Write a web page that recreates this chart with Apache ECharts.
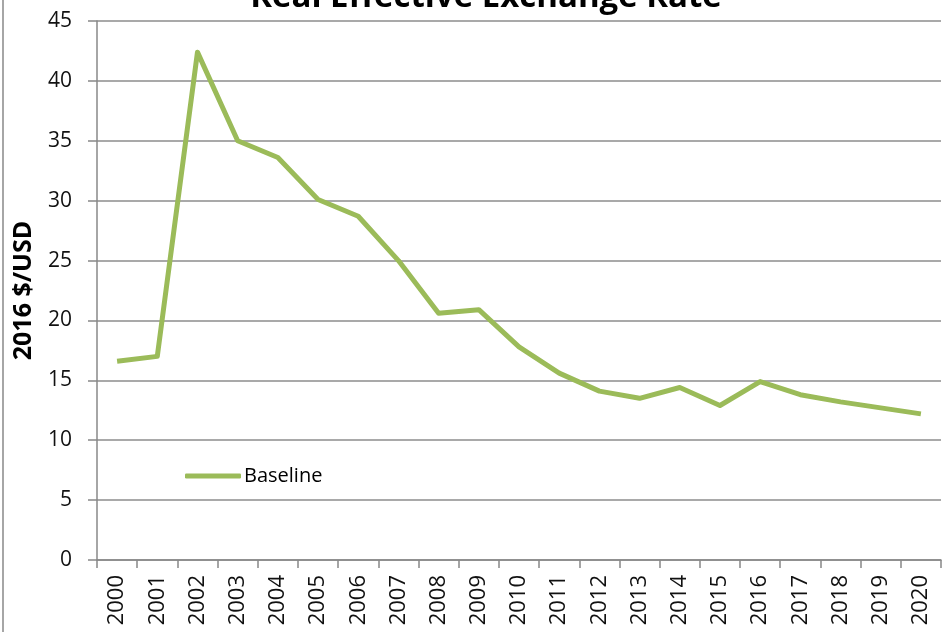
<!DOCTYPE html>
<html>
<head>
<meta charset="utf-8">
<script src="https://cdn.jsdelivr.net/npm/echarts@6/dist/echarts.min.js"></script>
<style>
  html, body { margin: 0; padding: 0; background: #fff; }
  #chart { width: 945px; height: 632px; }
</style>
</head>
<body>
<div id="chart"></div>
<script>
// Years on the category axis
const years = ['2000','2001','2002','2003','2004','2005','2006','2007','2008','2009','2010',
               '2011','2012','2013','2014','2015','2016','2017','2018','2019','2020'];
// Real effective exchange rate, baseline scenario (2016 $/USD)
const baseline = [16.6, 17.0, 42.4, 35.0, 33.6, 30.1, 28.7, 25.0, 20.6, 20.9, 17.8,
                  15.6, 14.1, 13.5, 14.4, 12.9, 14.9, 13.8, 13.2, 12.7, 12.2];
// Value-axis range
const yMin = 0, yMax = 45, yStep = 5;

const font = '"Open Sans", "Liberation Sans", sans-serif';
const green = '#9BBB59';

const chart = echarts.init(document.getElementById('chart'));
chart.setOption({
  animation: false,
  backgroundColor: '#fff',
  title: {
    text: 'Real Effective Exchange Rate',
    left: 481,
    textAlign: 'center',
    top: -24,
    textStyle: { fontFamily: font, fontSize: 33, fontWeight: 'bold', color: '#000' }
  },
  graphic: [{
    type: 'line',
    shape: { x1: 3, y1: 0, x2: 3, y2: 632 },
    style: { stroke: '#a6a6a6', lineWidth: 2 }
  }],
  legend: {
    left: 180,
    top: 461,
    itemWidth: 56,
    itemHeight: 5,
    itemGap: 4,
    data: [{ name: 'Baseline', icon: 'roundRect' }],
    textStyle: { fontFamily: font, fontSize: 20, color: '#000', padding: [0, 0, 0, -2] }
  },
  grid: { left: 97, right: 4, top: 21, bottom: 72, containLabel: false, outerBoundsMode: 'none' },
  xAxis: {
    type: 'category',
    data: years,
    boundaryGap: true,
    axisLine: { lineStyle: { color: '#888', width: 1.5 } },
    axisTick: { show: true, length: 8, alignWithLabel: false, lineStyle: { color: '#888', width: 1.5 } },
    axisLabel: {
      rotate: 90,
      interval: 0,
      margin: 15,
      fontFamily: font,
      fontSize: 22,
      color: '#111'
    },
    splitLine: { show: false }
  },
  yAxis: {
    type: 'value',
    min: yMin,
    max: yMax,
    interval: yStep,
    name: '2016 $/USD',
    nameLocation: 'middle',
    nameGap: 61,
    nameRotate: 90,
    nameTextStyle: { fontFamily: font, fontSize: 25, fontWeight: 'bold', color: '#000' },
    axisLine: { show: true, lineStyle: { color: '#888', width: 1.5 } },
    axisTick: { show: true, length: 9, lineStyle: { color: '#888', width: 1.5 } },
    axisLabel: { margin: 25, fontFamily: font, fontSize: 21, color: '#111' },
    splitLine: { show: true, lineStyle: { color: '#8c8c8c', width: 1.5 } }
  },
  series: [{
    name: 'Baseline',
    type: 'line',
    data: baseline,
    showSymbol: false,
    symbol: 'none',
    lineStyle: { color: green, width: 5, join: 'round' },
    itemStyle: { color: green }
  }]
});
</script>
</body>
</html>
